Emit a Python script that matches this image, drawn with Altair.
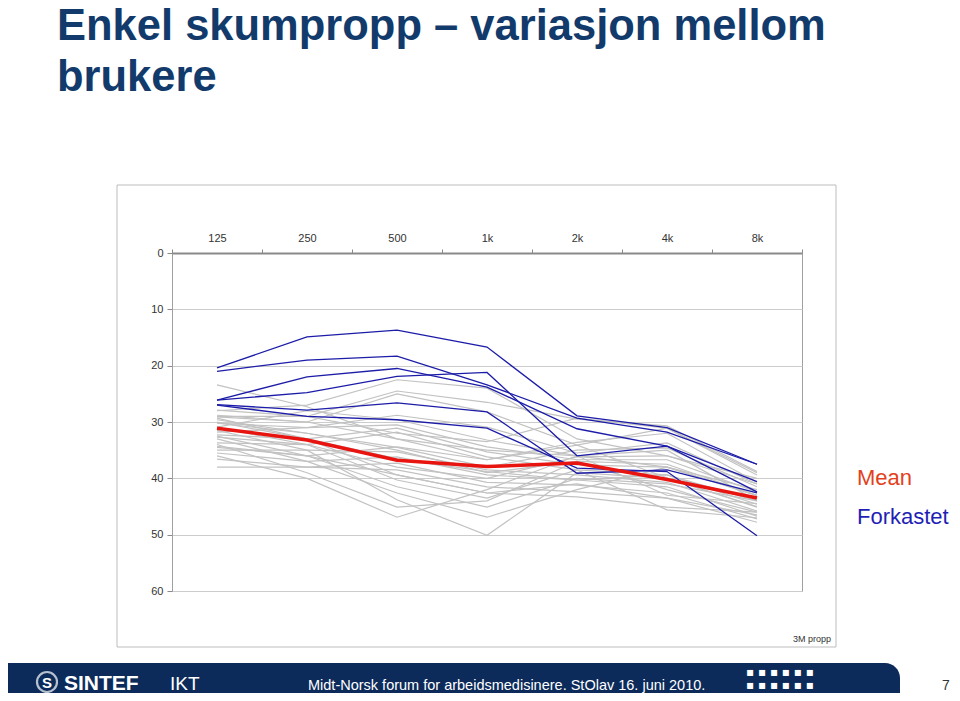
import altair as alt
import pandas as pd

# ---------------- data (dB HL) ----------------
freqs = ["125", "250", "500", "1k", "2k", "4k", "8k"]
y_ticks = [0, 10, 20, 30, 40, 50, 60]

mean_db = [31.1, 33.2, 36.8, 37.9, 37.3, 40.2, 43.5]

# rejected fittings ("Forkastet", blue)
b1 = [20.4, 14.9, 13.7, 16.7, 28.9, 31.0, 37.5]
b2 = [21.0, 19.0, 18.3, 23.4, 29.3, 31.8, 37.5]
b3 = [26.1, 22.0, 20.5, 23.8, 31.2, 34.3, 40.6]
b4 = [26.1, 24.8, 21.9, 21.2, 36.0, 34.3, 42.4]
b5 = [26.9, 27.9, 26.6, 28.2, 39.1, 38.5, 42.6]
b6 = [27.0, 29.0, 29.6, 31.1, 38.2, 38.8, 50.2]
rejected = [b1, b2, b3, b4, b5, b6]

# accepted fittings (grey)
g01 = [23.4, 27.3, 33.0, 35.0, 36.0, 38.0, 42.0]
g02 = [28.0, 27.0, 22.5, 24.0, 33.0, 36.0, 40.0]
g03 = [29.0, 29.0, 24.5, 26.5, 29.5, 30.7, 38.8]
g04 = [29.1, 30.0, 25.0, 28.2, 34.1, 31.1, 39.4]
g05 = [30.2, 31.0, 28.8, 30.9, 35.5, 33.7, 41.0]
g06 = [30.9, 28.0, 29.6, 33.2, 36.0, 35.0, 44.0]
g07 = [31.8, 31.0, 30.5, 34.4, 36.7, 36.7, 42.4]
g08 = [32.3, 33.0, 31.1, 35.3, 37.6, 38.0, 43.1]
g09 = [33.7, 34.0, 31.8, 36.2, 38.5, 39.4, 44.6]
g10 = [34.3, 36.0, 34.4, 36.7, 34.1, 39.9, 45.1]
g11 = [35.0, 35.0, 35.3, 38.5, 39.4, 40.7, 45.8]
g12 = [35.5, 37.0, 36.2, 39.4, 40.3, 41.5, 46.7]
g13 = [36.6, 38.0, 37.3, 40.7, 41.2, 42.6, 47.2]
g14 = [38.0, 38.0, 38.5, 41.5, 42.4, 43.5, 47.8]
g15 = [30.0, 33.0, 39.4, 42.6, 43.3, 45.1, 46.0]
g16 = [31.0, 34.0, 40.3, 43.5, 38.5, 45.6, 47.0]
g17 = [32.5, 36.0, 41.5, 45.1, 40.0, 41.0, 44.0]
g18 = [33.0, 37.0, 42.6, 46.9, 42.0, 38.0, 43.0]
g19 = [31.5, 35.0, 43.8, 50.1, 39.0, 40.0, 45.0]
g20 = [34.0, 39.0, 45.1, 44.0, 37.0, 42.0, 46.0]
g21 = [36.0, 40.0, 46.9, 42.0, 36.0, 43.0, 44.5]
g22 = [29.6, 32.0, 34.5, 38.0, 35.0, 34.6, 41.5]
g23 = [30.2, 32.0, 35.0, 39.0, 37.0, 37.5, 43.0]
g24 = [28.8, 30.0, 33.0, 36.7, 33.6, 32.0, 40.7]
g25 = [27.9, 29.0, 32.0, 33.5, 29.3, 31.1, 39.0]
g26 = [32.7, 34.0, 38.0, 40.0, 36.2, 36.0, 41.0]
g27 = [34.5, 36.0, 39.4, 42.6, 41.0, 43.5, 46.5]
g28 = [29.3, 33.0, 36.5, 38.8, 40.3, 39.4, 44.0]
accepted = [g01, g02, g03, g04, g05, g06, g07, g08, g09, g10, g11, g12, g13, g14,
            g15, g16, g17, g18, g19, g20, g21, g22, g23, g24, g25, g26, g27, g28]

title_lines = ["Enkel skumpropp \u2013 variasjon mellom", "brukere"]
legend_mean = "Mean"
legend_rejected = "Forkastet"
source_note = "3M propp"
footer_text = "Midt-Norsk forum for arbeidsmedisinere. StOlav 16. juni 2010."
page_number = "7"


def long_rows(series_list, prefix):
    rows = []
    for i, s in enumerate(series_list):
        for f, v in zip(freqs, s):
            rows.append({"id": f"{prefix}{i}", "freq": f, "db": v})
    return pd.DataFrame(rows)


df_gray = long_rows(accepted, "g")
df_blue = long_rows(rejected, "b")
df_mean = pd.DataFrame({"id": "mean", "freq": freqs, "db": mean_db})
one = pd.DataFrame({"k": [0]})

# ---------------- geometry ----------------
W, H = 630, 338
PAD_L, PAD_T = 164, 245   # plot origin at page (172, 253)

FONT = "Liberation Sans, Arial, sans-serif"

x_enc = alt.X(
    "freq:N", sort=freqs,
    scale=alt.Scale(type="band", paddingInner=0, paddingOuter=0),
    bandPosition=0.5,
    axis=alt.Axis(orient="top", title=None, labelAngle=0, tickBand="extent",
                  domainColor="#8a8a8a", domainWidth=2, tickColor="#8a8a8a",
                  tickSize=4, labelPadding=6, labelFont=FONT, labelFontSize=11,
                  labelColor="#333333", grid=False),
)
y_enc = alt.Y(
    "db:Q",
    scale=alt.Scale(domain=[0, 60], reverse=True, nice=False, zero=False),
    axis=alt.Axis(values=y_ticks, title=None, grid=True, gridColor="#cccccc",
                  gridWidth=1, domain=False, tickColor="#8a8a8a", tickSize=5,
                  labelPadding=4, labelFont=FONT, labelFontSize=11,
                  labelColor="#333333"),
)

box = alt.Chart(one).mark_rect(fill="white", fillOpacity=0, stroke="#bdbdbd",
                               strokeWidth=1).encode(
    x=alt.value(117 - 172), x2=alt.value(836 - 172),
    y=alt.value(185 - 253), y2=alt.value(647 - 253))

gray = alt.Chart(df_gray).mark_line(color="#c2c2c2", strokeWidth=1.2).encode(
    x=x_enc, y=y_enc, detail="id:N")
blue = alt.Chart(df_blue).mark_line(color="#1c1ca8", strokeWidth=1.3).encode(
    x=x_enc, y=y_enc, detail="id:N")
red = alt.Chart(df_mean).mark_line(color="#e8140f", strokeWidth=3.5).encode(
    x=x_enc, y=y_enc)


def text_layer(txt, px, py, size, color, weight="normal", align="left", font=FONT):
    return alt.Chart(one).mark_text(
        text=txt, align=align, baseline="alphabetic", fontSize=size,
        fontWeight=weight, color=color, font=font,
    ).encode(x=alt.value(px - 172), y=alt.value(py - 253))


title1 = text_layer(title_lines[0], 57, 40, 43.5, "#123b6c", "bold")
title2 = text_layer(title_lines[1], 57, 91, 43.5, "#123b6c", "bold")

leg_mean = text_layer(legend_mean, 857, 485, 22, "#e2411c")
leg_rej = text_layer(legend_rejected, 857, 524, 22, "#1f1fb5")
note = text_layer(source_note, 831, 642, 9, "#333333", align="right")

footer_bar = alt.Chart(one).mark_rect(color="#0c2b5b", cornerRadiusTopRight=34).encode(
    x=alt.value(-172), x2=alt.value(900 - 172),
    y=alt.value(663 - 253), y2=alt.value(693 - 253))

logo_ring = alt.Chart(one).mark_point(shape="circle", filled=False, color="white",
                                      strokeWidth=2.2, size=400).encode(
    x=alt.value(47 - 172), y=alt.value(682 - 253))
logo_s = text_layer("S", 47, 688, 15, "white", "bold", align="center")
sintef = text_layer("SINTEF", 64, 690, 21, "white", "bold")
ikt = text_layer("IKT", 170, 690, 19, "white")
foot = text_layer(footer_text, 308, 690, 14.5, "white",
                  font="Liberation Sans Narrow, Liberation Sans, Arial, sans-serif")
sq = "\u25aa    \u25aa    \u25aa    \u25aa    \u25aa    \u25aa"
squares1 = text_layer(sq, 746, 676, 12, "white", font="DejaVu Sans")
squares2 = text_layer(sq, 746, 689, 12, "white", font="DejaVu Sans")
page = text_layer(page_number, 946, 690, 14, "#333333", align="center")

chart = alt.layer(
    box, gray, blue, red,
    title1, title2, leg_mean, leg_rej, note,
    footer_bar, logo_ring, logo_s, sintef, ikt, foot, squares1, squares2, page,
).properties(
    width=W, height=H,
    autosize=alt.AutoSizeParams(type="none"),
    padding={"left": PAD_L, "top": PAD_T, "right": 150, "bottom": 102},
).configure_view(stroke="#a0a0a0", strokeWidth=1)

chart.save("out.html", embed_options={"renderer": "svg", "actions": False})
